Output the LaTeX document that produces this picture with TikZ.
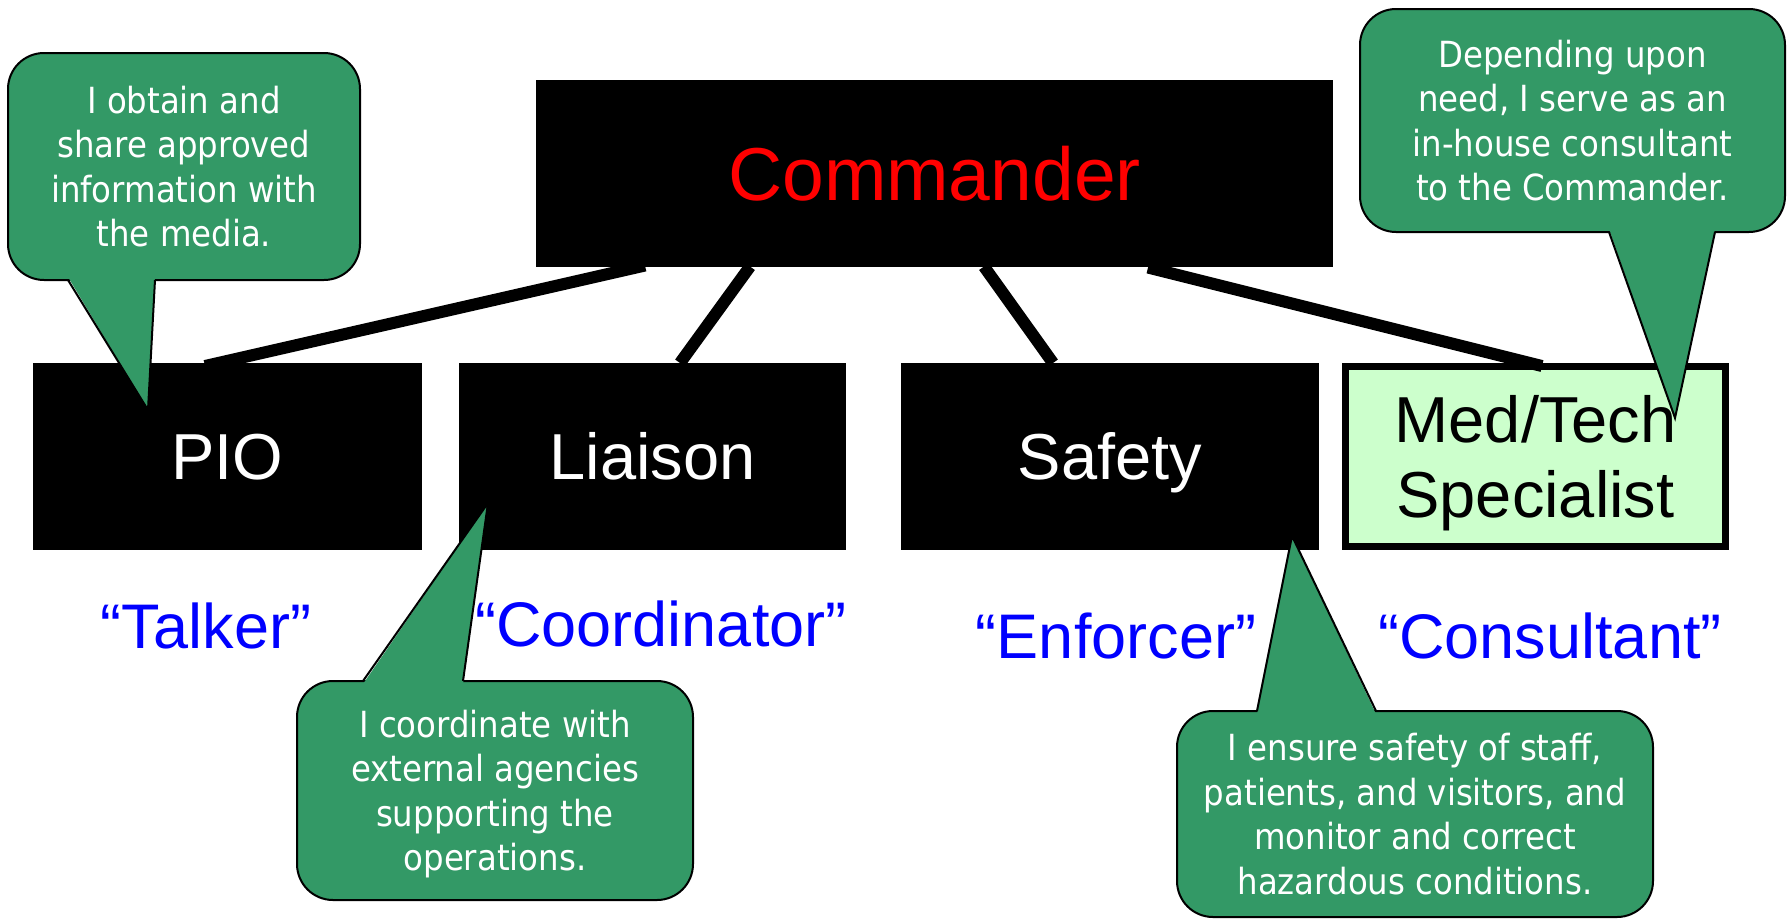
\documentclass[tikz,border=0pt]{standalone}
\usepackage{fontspec}
\setmainfont{Liberation Sans}
\newfontfamily\callfont{DejaVu Sans Condensed}
\usetikzlibrary{calc}
\definecolor{callgreen}{RGB}{51,153,102}
\definecolor{medgreen}{RGB}{204,255,204}
\begin{document}
\begin{tikzpicture}[x=1pt,y=-1pt,
  blk/.style={fill=black, inner sep=0pt, outer sep=0pt, text=white, align=center,
    font=\fontsize{65}{75}\selectfont, text height=46.5pt, text depth=0pt},
  conn/.style={line width=12pt, draw=black},
  callbox/.style={draw=black, line width=2pt, fill=callgreen, rounded corners=36pt,
    inner sep=0pt, outer sep=0pt, text=white, align=center, text depth=0pt,
    font=\callfont\fontsize{36}{44.5}\selectfont},
  ptrfill/.style={fill=callgreen},
  ptrline/.style={draw=black, line width=2pt, line join=miter},
  role/.style={text=blue, font=\fontsize{63}{70}\selectfont, anchor=base, inner sep=0pt}
]
\fill[white] (0,0) rectangle (1791,919);
\useasboundingbox (0,0) rectangle (1791,919);

% boxes
\node[blk, minimum width=797pt, minimum height=187pt, text=red,
  font=\fontsize{75}{88}\selectfont, text height=54pt] (cmd) at (934.5,173) {Commander};
\node[blk, minimum width=389pt, minimum height=187pt] (pio) at (227.5,456.5) {PIO};
\node[blk, minimum width=387pt, minimum height=187pt] (liaison) at (652.5,456.5) {Liaison};
\node[blk, minimum width=418pt, minimum height=187pt] (safety) at (1110,456.5) {Safety};
\node[draw=black, line width=7pt, fill=medgreen, minimum width=380pt, minimum height=180pt,
  inner sep=0pt, align=center, text depth=0pt, font=\fontsize{65}{75}\selectfont]
  (med) at (1535.5,456.5) {Med/Tech\\Specialist};

% connectors
\draw[conn] ($(cmd.south west)+(109,-1)$) -- ($(pio.north west)+(172,3)$);
\draw[conn] ($(cmd.south west)+(214,0)$) -- ($(liaison.north west)+(221,0)$);
\draw[conn] ($(cmd.south west)+(448,0)$) -- ($(safety.north west)+(152,0)$);
\draw[conn] ($(cmd.south west)+(612,1)$) -- ($(med.north west)+(200,3)$);

% role labels
\node[role] (talker) at (206,648) {“Talker”};
\node[role] (coord) at (661,646) {“Coordinator”};
\node[role] (enforcer) at (1116,658) {“Enforcer”};
\node[role] (consult) at (1550,658) {“Consultant”};

% callout 1 (PIO)
\node[callbox, minimum width=352pt, minimum height=227pt] (c1) at (184,166.5)
  {I obtain and\\share approved\\information with\\the media.};
\coordinate (t1) at (148,410);
\fill[ptrfill] ($(c1.south west)+(60,-3)$) -- (t1) -- ($(c1.south west)+(147,-3)$) -- cycle;
\draw[ptrline] ($(c1.south west)+(60,0)$) -- (t1) -- ($(c1.south west)+(147,0)$);

% callout 2 (Liaison)
\node[callbox, minimum width=396pt, minimum height=219pt] (c2) at (495,790.5)
  {I coordinate with\\external agencies\\supporting the\\operations.};
\coordinate (t2) at (488,503);
\fill[ptrfill] ($(c2.north west)+(66,3)$) -- (t2) -- ($(c2.north west)+(166,3)$) -- cycle;
\draw[ptrline] ($(c2.north west)+(66,0)$) -- (t2) -- ($(c2.north west)+(166,0)$);

% callout 3 (Safety)
\node[callbox, minimum width=476pt, minimum height=206pt] (c3) at (1415,814)
  {I ensure safety of staff,\\patients, and visitors, and\\monitor and correct\\hazardous conditions.};
\coordinate (t3) at (1292,536);
\fill[ptrfill] ($(c3.north west)+(80,3)$) -- (t3) -- ($(c3.north west)+(199,3)$) -- cycle;
\draw[ptrline] ($(c3.north west)+(80,0)$) -- (t3) -- ($(c3.north west)+(199,0)$);

% callout 4 (Med/Tech)
\node[callbox, minimum width=425pt, minimum height=223pt] (c4) at (1572.5,120.5)
  {Depending upon\\need, I serve as an\\in-house consultant\\to the Commander.};
\coordinate (t4) at (1675,418);
\fill[ptrfill] ($(c4.south west)+(249,-3)$) -- (t4) -- ($(c4.south west)+(355,-3)$) -- cycle;
\draw[ptrline] ($(c4.south west)+(249,0)$) -- (t4) -- ($(c4.south west)+(355,0)$);
\end{tikzpicture}
\end{document}
